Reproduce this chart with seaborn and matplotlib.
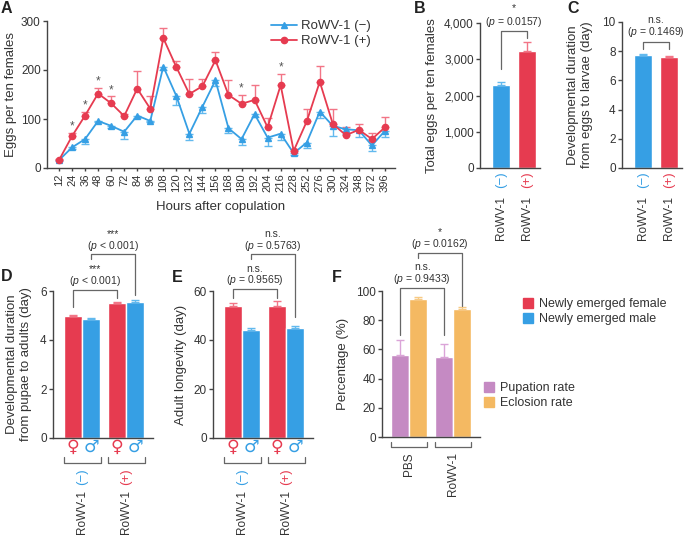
import numpy as np
import pandas as pd
import matplotlib.pyplot as plt
import seaborn as sns
from matplotlib.patches import Patch
from matplotlib.lines import Line2D
from matplotlib.ticker import FuncFormatter

# ---- data ----
hours = [12, 24, 36, 48, 60, 72, 84, 96, 108, 120, 132, 144, 156, 168, 180,
         192, 204, 216, 228, 252, 276, 300, 324, 348, 372, 396]
eggs_neg = [16, 42, 59, 96, 86, 74, 107, 96, 207, 147, 70, 125, 179, 81, 59,
            110, 62, 70, 30, 52, 115, 86, 79, 77, 46, 76]
eggs_neg_err = [2, 4, 10, 3, 4, 14, 4, 2, 8, 18, 13, 12, 12, 9, 12,
                5, 18, 12, 3, 12, 12, 20, 10, 13, 12, 12]
eggs_pos = [16, 65, 107, 152, 132, 106, 162, 121, 265, 206, 151, 167, 220, 149, 131,
            139, 83, 169, 35, 95, 176, 90, 67, 78, 59, 83]
eggs_pos_err = [2, 7, 8, 12, 14, 4, 36, 25, 21, 13, 30, 14, 17, 30, 19,
                31, 20, 22, 3, 25, 33, 30, 16, 12, 13, 22]
star_hours = [24, 36, 48, 60, 180, 216]

groups = ['(−)', '(+)']
total_eggs = [2280, 3230]
total_eggs_err = [100, 240]
egg_larva = [7.74, 7.63]
egg_larva_err = [0.05, 0.04]

sexes = ['Newly emerged female', 'Newly emerged male']
pupa_adult_f = [4.98, 5.50]
pupa_adult_f_err = [0.06, 0.06]
pupa_adult_m = [4.85, 5.56]
pupa_adult_m_err = [0.03, 0.06]
longevity_f = [53.9, 54.0]
longevity_f_err = [1.3, 1.8]
longevity_m = [44.0, 44.8]
longevity_m_err = [0.9, 1.0]

treatments = ['PBS', 'RoWV-1']
rates = ['Pupation rate', 'Eclosion rate']
pupation = [56.0, 54.9]
pupation_err = [10.4, 8.7]
eclosion = [94.7, 87.4]
eclosion_err = [1.2, 1.8]

# ---- style ----
RED, RED_E = '#E63B50', '#F27586'
BLUE, BLUE_E = '#369FE4', '#62B9EE'
PURPLE, PURPLE_E = '#C58AC3', '#DBA4D8'
ORANGE, ORANGE_E = '#F4B962', '#F7CA85'
GRAY = '#666666'
INK = '#333333'

sns.set_theme(style='ticks')
plt.rcParams['font.family'] = ['Liberation Sans', 'DejaVu Sans']
plt.rcParams.update({
    'mathtext.fontset': 'custom',
    'mathtext.it': 'Liberation Sans:italic',
    'mathtext.rm': 'Liberation Sans',
    'axes.edgecolor': '#444444',
    'axes.linewidth': 1.0,
    'xtick.color': '#444444',
    'ytick.color': '#444444',
    'xtick.labelcolor': INK,
    'ytick.labelcolor': INK,
    'axes.labelcolor': INK,
    'text.color': INK,
    'ytick.major.size': 3,
    'ytick.major.pad': 1.5,
    'ytick.major.width': 1.0,
    'xtick.major.width': 1.0,
    'ytick.labelsize': 8.5,
    'xtick.labelsize': 8,
    'axes.labelsize': 9.5,
})

W, H = 685, 537
fig = plt.figure(figsize=(W / 100, H / 100), dpi=100)


def box(l, r, t, b):
    return fig.add_axes([l / W, 1 - b / H, (r - l) / W, (b - t) / H])


def upper_err(ax, xs, ys, errs, color):
    ax.errorbar(xs, ys, yerr=[np.zeros(len(ys)), errs], fmt='none', ecolor=color,
                elinewidth=1.0, capsize=3, capthick=1.0, zorder=3, clip_on=False)


def bracket(ax, x1, x2, top, leg1, leg2, ptxt, ytxt, sig, ysig):
    ax.plot([x1, x1, x2, x2], [leg1, top, top, leg2], color=GRAY, lw=0.9,
            clip_on=False, zorder=4)
    xm = (x1 + x2) / 2
    ax.text(xm, ytxt, ptxt, ha='center', va='center', fontsize=7.5, clip_on=False)
    ax.text(xm, ysig, sig, ha='center', va='baseline', fontsize=7.5, clip_on=False)


def below(ax, x, px, txt, color=INK, rot=90, size=8.5, family=None):
    ax.annotate(txt, xy=(x, 0), xycoords=('data', 'axes fraction'),
                xytext=(0, -px * 0.72), textcoords='offset points', rotation=rot,
                ha='center', va='top', color=color, fontsize=size,
                annotation_clip=False, family=family)


def group_bracket(ax, x1, x2, y_top, y_h):
    ax.plot([x1, x1, x2, x2], [y_top, y_h, y_h, y_top], color=GRAY, lw=0.9,
            transform=ax.get_xaxis_transform(), clip_on=False)


def tidy(ax):
    sns.despine(ax=ax)
    ax.tick_params(axis='x', length=0)
    ax.set_xlabel('')


# ---- A: eggs over time ----
axA = box(47, 395, 21, 168)
dfA = pd.DataFrame({
    'hour': [str(h) for h in hours] * 2,
    'eggs': eggs_neg + eggs_pos,
    'group': ['RoWV-1 (−)'] * len(hours) + ['RoWV-1 (+)'] * len(hours),
})
pos = np.arange(len(hours))
axA.errorbar(pos, eggs_neg, yerr=[eggs_neg_err, np.zeros(len(hours))], fmt='none',
             ecolor=BLUE_E, elinewidth=1.0, capsize=3, capthick=1.0, zorder=2)
axA.errorbar(pos, eggs_pos, yerr=[np.zeros(len(hours)), eggs_pos_err], fmt='none',
             ecolor=RED_E, elinewidth=1.0, capsize=3, capthick=1.0, zorder=2)
sns.pointplot(data=dfA, x='hour', y='eggs', hue='group', ax=axA,
              order=[str(h) for h in hours], palette=[BLUE, RED],
              markers=['^', 'o'], linestyles=['-', '-'], errorbar=None,
              markersize=4.5, linewidth=1.3, legend=False)
for h in star_hours:
    i = hours.index(h)
    axA.text(i, eggs_pos[i] + eggs_pos_err[i] + 1, '*', ha='center', va='bottom',
             color='#555555', fontsize=8.5)
axA.set_xlim(-0.92, 25.77)
axA.set_ylim(0, 300)
axA.set_yticks([0, 100, 200, 300])
axA.tick_params(axis='x', rotation=90, labelsize=8, length=2, pad=2)
sns.despine(ax=axA)
axA.set_xlabel('Hours after copulation', labelpad=6)
axA.set_ylabel('Eggs per ten females', labelpad=3)
handles = [Line2D([], [], color=BLUE, marker='^', markersize=4.5, lw=1.3),
           Line2D([], [], color=RED, marker='o', markersize=4.5, lw=1.3)]
axA.legend(handles, ['RoWV-1 (−)', 'RoWV-1 (+)'], loc='upper right',
           bbox_to_anchor=(0.95, 1.05), frameon=False, fontsize=9.5,
           handlelength=2.0, handletextpad=0.3, labelspacing=0.2, borderpad=0)

# ---- B / C: two-bar panels ----
def two_bar(ax, vals, errs, ylim, ticks, ylabel, pad):
    d = pd.DataFrame({'g': groups, 'v': vals})
    sns.barplot(data=d, x='g', y='v', hue='g', palette=[BLUE, RED], width=0.67,
                errorbar=None, legend=False, ax=ax, saturation=1)
    upper_err(ax, [0], [vals[0]], [errs[0]], BLUE_E)
    upper_err(ax, [1], [vals[1]], [errs[1]], RED_E)
    ax.set_xlim(-0.81, 1.5)
    ax.set_ylim(*ylim)
    ax.set_yticks(ticks)
    ax.set_xticks([0, 1])
    ax.set_xticklabels([])
    tidy(ax)
    ax.set_ylabel(ylabel, labelpad=pad, linespacing=1.15)
    for i, (c, col) in enumerate(zip(groups, [BLUE, RED])):
        below(ax, i, 3, c, color=col, size=9.5)
        below(ax, i, 28, 'RoWV-1')


axB = box(480, 540, 23, 168)
two_bar(axB, total_eggs, total_eggs_err, (0, 4000), [0, 1000, 2000, 3000, 4000],
        'Total eggs per ten females', 4)
axB.yaxis.set_major_formatter(FuncFormatter(lambda v, p: f'{v:,.0f}'))
bracket(axB, 0, 1, 3790, 2740, 3600, '($p$ = 0.0157)', 4040, '*', 4330)

axC = box(622, 682, 22, 168)
two_bar(axC, egg_larva, egg_larva_err, (0, 10), [0, 2, 4, 6, 8, 10],
        'Developmental duration\nfrom eggs to larvae (day)', 7)
bracket(axC, 0, 1, 8.6, 8.13, 8.13, '($p$ = 0.1469)', 9.34, 'n.s.', 9.9)

# ---- D / E: sex x infection ----
OFF = 0.82 / 4


def sex_bar(ax, fvals, ferr, mvals, merr, ylim, ticks, ylabel, pad):
    d = pd.DataFrame({'g': groups * 2, 's': [sexes[0]] * 2 + [sexes[1]] * 2,
                      'v': fvals + mvals})
    sns.barplot(data=d, x='g', y='v', hue='s', hue_order=sexes, palette=[RED, BLUE],
                width=0.82, errorbar=None, legend=False, ax=ax, saturation=1)
    upper_err(ax, [-OFF, 1 - OFF], fvals, ferr, RED_E)
    upper_err(ax, [OFF, 1 + OFF], mvals, merr, BLUE_E)
    ax.set_xlim(-0.66, 1.61)
    ax.set_ylim(*ylim)
    ax.set_yticks(ticks)
    ax.set_xticks([0, 1])
    ax.set_xticklabels([])
    tidy(ax)
    ax.set_ylabel(ylabel, labelpad=pad, linespacing=1.15)
    hh = 147
    for i in range(2):
        below(ax, i - OFF, 0, '♀', color=RED, rot=0, size=12.5, family='DejaVu Sans')
        below(ax, i + OFF, 0, '♂', color=BLUE, rot=0, size=12.5, family='DejaVu Sans')
        group_bracket(ax, i - 0.42, i + 0.42, -19 / hh, -25 / hh)
        below(ax, i, 30, groups[i], color=[BLUE, RED][i], size=9.5)
        below(ax, i, 52, 'RoWV-1')


axD = box(53, 153, 291, 438)
sex_bar(axD, pupa_adult_f, pupa_adult_f_err, pupa_adult_m, pupa_adult_m_err,
        (0, 6), [0, 2, 4, 6], 'Developmental duration\nfrom pupae to adults (day)', 6)
bracket(axD, -OFF, 1 - OFF, 6.04, 5.35, 5.70, '($p$ < 0.001)', 6.42, '***', 6.78)
bracket(axD, OFF, 1 + OFF, 7.51, 7.31, 5.84, '($p$ < 0.001)', 7.82, '***', 8.2)

axE = box(213, 313, 291, 438)
sex_bar(axE, longevity_f, longevity_f_err, longevity_m, longevity_m_err,
        (0, 60), [0, 20, 40, 60], 'Adult longevity (day)', 5)
bracket(axE, -OFF, 1 - OFF, 60.8, 57, 57, '($p$ = 0.9565)', 64.4, 'n.s.', 67.8)
bracket(axE, OFF, 1 + OFF, 75.1, 73, 49.4, '($p$ = 0.5763)', 78.4, 'n.s.', 82.2)

# ---- F: pupation / eclosion ----
axF = box(382, 480, 291, 437)
dF = pd.DataFrame({'t': treatments * 2, 'r': [rates[0]] * 2 + [rates[1]] * 2,
                   'v': pupation + eclosion})
sns.barplot(data=dF, x='t', y='v', hue='r', hue_order=rates, palette=[PURPLE, ORANGE],
            width=0.8, errorbar=None, legend=False, ax=axF, saturation=1)
offF = 0.8 / 4
upper_err(axF, [-offF, 1 - offF], pupation, pupation_err, PURPLE_E)
upper_err(axF, [offF, 1 + offF], eclosion, eclosion_err, ORANGE_E)
axF.set_xlim(-0.61, 1.61)
axF.set_ylim(0, 100)
axF.set_yticks([0, 20, 40, 60, 80, 100])
axF.set_xticks([0, 1])
axF.set_xticklabels([])
tidy(axF)
axF.set_ylabel('Percentage (%)', labelpad=5)
for i, t in enumerate(treatments):
    group_bracket(axF, i - 0.4, i + 0.4, -5 / 146, -10 / 146)
    below(axF, i, 15, t)
bracket(axF, -offF, 1 - offF, 102, 70, 70, '($p$ = 0.9433)', 108.5, 'n.s.', 114.5)
bracket(axF, offF, 1 + offF, 126, 122.6, 90, '($p$ = 0.0162)', 132.5, '*', 138.5)

# ---- legends ----
leg_kw = dict(loc='upper left', frameon=False, fontsize=9, handlelength=0.8,
              handleheight=0.8, handletextpad=0.5, labelspacing=0.25, borderpad=0,
              borderaxespad=0)
fig.legend([Patch(color=RED), Patch(color=BLUE)], sexes,
           bbox_to_anchor=(523 / W, 1 - 298 / H), **leg_kw)
fig.legend([Patch(color=PURPLE), Patch(color=ORANGE)], rates,
           bbox_to_anchor=(484 / W, 1 - 382 / H), **leg_kw)

# ---- panel letters ----
for letter, x, y in [('A', 1, 1), ('B', 414, 1), ('C', 567, 1),
                     ('D', 1, 269), ('E', 172, 270), ('F', 332, 270)]:
    fig.text(x / W, 1 - y / H, letter, fontsize=11.5, fontweight='bold',
             va='top', ha='left', color='#222222')

fig.savefig('out.png', dpi=100)
